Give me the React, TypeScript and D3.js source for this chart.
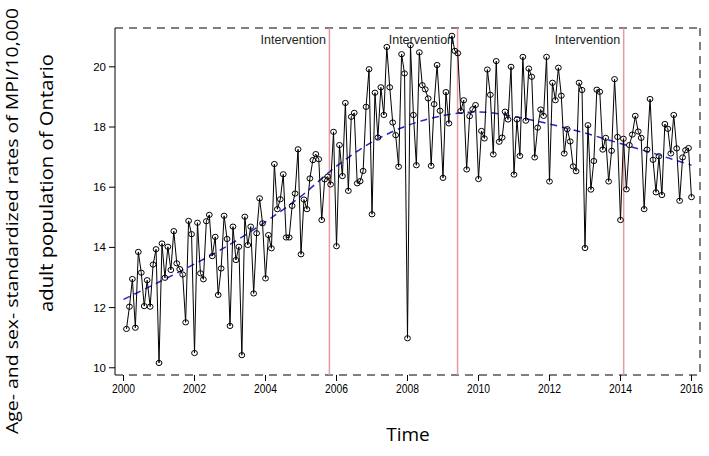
import React from "react";
import * as d3 from "d3";

const rates2000to2003 = [11.29, 12.03, 12.95, 11.33, 13.85, 13.16, 12.05, 12.91, 12.03, 13.43, 13.94, 10.16, 14.13, 12.99, 14.02, 13.25, 14.54, 13.47, 13.28, 13.10, 11.51, 14.88, 14.44, 10.49, 14.82, 13.14, 12.94, 14.87, 15.08, 13.71, 14.35, 12.42, 13.30, 15.05, 14.28, 11.39, 14.69, 13.58, 14.02, 10.42, 15.02, 14.08, 14.69, 12.47, 14.47, 15.63, 14.80, 12.97];
const rates2004to2007 = [14.41, 13.97, 16.77, 15.27, 15.60, 16.43, 14.33, 14.33, 15.38, 15.79, 17.26, 13.77, 15.59, 15.27, 16.29, 16.90, 17.10, 16.93, 14.91, 16.26, 16.35, 16.09, 17.84, 14.04, 17.40, 16.37, 18.80, 15.88, 18.34, 18.47, 16.13, 16.20, 16.54, 18.67, 19.92, 15.10, 19.14, 17.65, 19.32, 18.40, 20.66, 19.32, 18.15, 17.73, 16.68, 20.42, 19.78, 10.98];
const rates2008to2011 = [20.72, 18.40, 16.73, 20.48, 19.39, 19.25, 18.95, 16.71, 18.76, 20.06, 18.54, 16.31, 19.16, 18.12, 21.03, 20.53, 20.45, 18.53, 18.89, 16.59, 18.36, 18.59, 18.73, 16.27, 17.87, 17.62, 19.91, 19.07, 17.09, 20.19, 17.51, 17.65, 18.51, 18.25, 20.00, 16.42, 18.25, 17.04, 20.33, 18.21, 19.94, 19.67, 16.99, 17.98, 18.58, 18.37, 20.33, 16.19];
const rates2012to2015 = [19.47, 18.89, 19.97, 19.04, 17.12, 17.93, 17.52, 16.69, 16.53, 19.47, 19.23, 13.98, 18.06, 15.92, 16.87, 19.24, 19.17, 17.25, 17.64, 16.19, 17.21, 19.59, 17.67, 14.91, 17.61, 15.93, 17.40, 17.75, 18.37, 17.85, 17.64, 15.27, 17.25, 18.93, 16.91, 15.83, 17.03, 15.74, 18.10, 17.94, 17.12, 18.40, 17.29, 15.55, 16.99, 17.23, 17.30, 15.67];

const trendYears = [2000, 2001, 2002, 2003, 2004, 2005, 2006, 2007, 2008, 2009, 2010, 2011, 2012, 2013, 2014, 2015, 2016];
const trendValues = [12.27, 12.85, 13.45, 14.1, 14.85, 15.7, 16.7, 17.5, 18.05, 18.38, 18.5, 18.35, 18.1, 17.8, 17.45, 17.1, 16.73];

const interventionDates = [2005.8, 2009.41, 2014.09];
const interventionLabel = "Intervention";

const xTicks = [2000, 2002, 2004, 2006, 2008, 2010, 2012, 2014, 2016];
const yTicks = [10, 12, 14, 16, 18, 20];

const yTitleLine1 = "Age- and sex- standardized rates of MPI/10,000";
const yTitleLine2 = "adult population of Ontario";
const xTitle = "Time";

const startYear = 2000;

export default function App() {
  const W = 709, H = 456;
  const left = 115, right = 700, top = 28, bottom = 375;
  const x = d3.scaleLinear().domain([1999.76, 2016.24]).range([left, right]);
  const y = d3.scaleLinear().domain([9.76, 21.29]).range([bottom, top]);

  const values = [...rates2000to2003, ...rates2004to2007, ...rates2008to2011, ...rates2012to2015];
  const pts = values.map((v, i) => ({ t: startYear + (i + 1) / 12, v }));

  const line = d3.line<{ t: number; v: number }>().x(d => x(d.t)).y(d => y(d.v));
  const trend = d3
    .line<number>()
    .x((_, i) => x(trendYears[i]))
    .y(d => y(d))
    .curve(d3.curveMonotoneX);

  const tickFont = "Liberation Sans, Arial, sans-serif";
  const titleFont = "Open Sans, Noto Sans, sans-serif";

  return (
    <svg width={W} height={H} style={{ position: "absolute", left: 0, top: 0, background: "#fff" }}>
      <rect x={0} y={0} width={W} height={H} fill="#fff" />
      {/* box */}
      <line x1={left} x2={right} y1={top} y2={top} stroke="#000" strokeWidth={1} strokeDasharray="8,6" />
      <line x1={left} x2={right} y1={bottom} y2={bottom} stroke="#000" strokeWidth={1} strokeDasharray="8,6" />
      <line x1={right} x2={right} y1={top} y2={bottom} stroke="#000" strokeWidth={1} strokeDasharray="8,6" />
      <line x1={left} x2={left} y1={top} y2={bottom} stroke="#000" strokeWidth={1} />

      {/* intervention lines */}
      {interventionDates.map((d, i) => (
        <g key={i}>
          <line x1={x(d)} x2={x(d)} y1={top} y2={bottom} stroke="#e89a9a" strokeWidth={1.5} />
          <text x={x(d) - 3.5} y={44} textAnchor="end" fontSize={12.5} fontFamily={tickFont} fill="#222">
            {interventionLabel}
          </text>
        </g>
      ))}

      {/* y axis */}
      {yTicks.map(t => (
        <g key={t}>
          <line x1={left - 6} x2={left} y1={y(t)} y2={y(t)} stroke="#000" />
          <text x={left - 9} y={y(t) + 4} textAnchor="end" fontSize={11.5} fontFamily={tickFont}>
            {t}
          </text>
        </g>
      ))}

      {/* x axis */}
      {xTicks.map(t => (
        <g key={t}>
          <line x1={x(t)} x2={x(t)} y1={bottom} y2={bottom + 6} stroke="#000" />
          <text
            x={x(t)}
            y={bottom + 18}
            textAnchor="middle"
            fontSize={12}
            fontFamily={tickFont}
            textLength={23}
            lengthAdjust="spacingAndGlyphs"
          >
            {t}
          </text>
        </g>
      ))}

      {/* trend */}
      <path d={trend(trendValues) || ""} fill="none" stroke="#2626c8" strokeWidth={1.5} strokeDasharray="7,5" />

      {/* series */}
      <path d={line(pts) || ""} fill="none" stroke="#000" strokeWidth={1} />
      {pts.map((p, i) => (
        <ellipse key={i} cx={x(p.t)} cy={y(p.v)} rx={2.9} ry={2.6} fill="none" stroke="#000" strokeWidth={1} />
      ))}

      {/* axis titles */}
      <text
        transform={`translate(18,434) rotate(-90)`}
        textAnchor="start"
        fontSize={17}
        fontFamily={titleFont}
        textLength={426}
        lengthAdjust="spacingAndGlyphs"
        fill="#000"
      >
        {yTitleLine1}
      </text>
      <text
        transform={`translate(53,183) rotate(-90)`}
        textAnchor="middle"
        fontSize={17.5}
        fontFamily={titleFont}
        textLength={258}
        lengthAdjust="spacingAndGlyphs"
        fill="#000"
      >
        {yTitleLine2}
      </text>
      <text x={408} y={441} textAnchor="middle" fontSize={19} fontFamily={titleFont} fill="#000">
        {xTitle}
      </text>
    </svg>
  );
}
